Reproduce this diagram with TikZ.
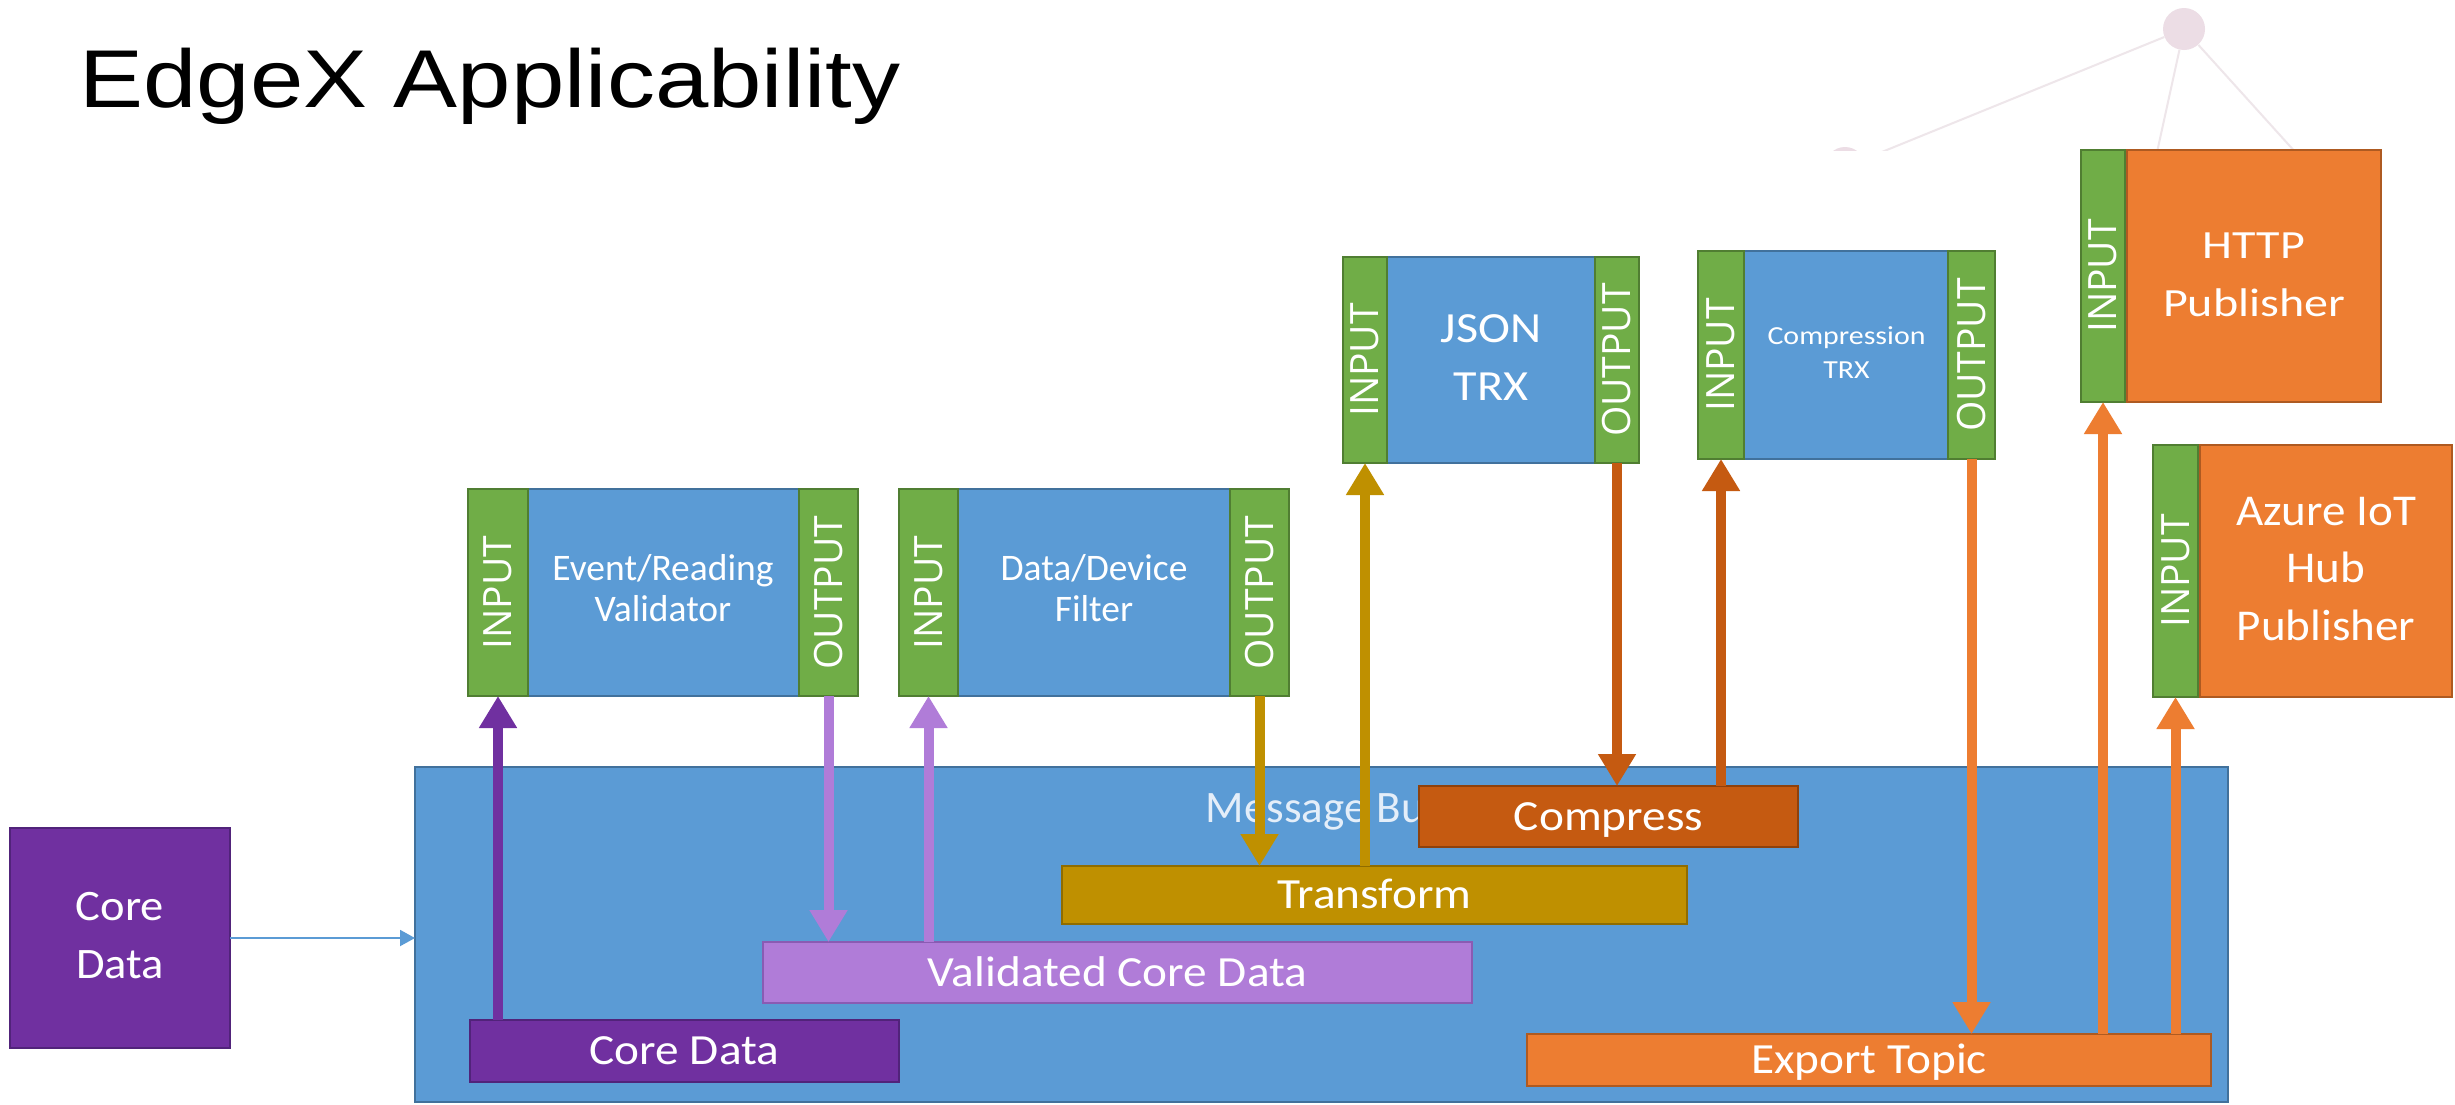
\documentclass[tikz,border=0pt]{standalone}
\usepackage{fontspec}
\setmainfont{Liberation Sans}
\newfontfamily\calfont{Carlito}
\newfontfamily\osfont{Open Sans}
\usepackage{graphicx}
\usetikzlibrary{arrows.meta}
\definecolor{cblue}{HTML}{5B9BD5}
\definecolor{cblueD}{HTML}{41719C}
\definecolor{cgreen}{HTML}{70AD47}
\definecolor{cgreenD}{HTML}{507E32}
\definecolor{cpurple}{HTML}{7030A0}
\definecolor{cpurpleD}{HTML}{51237A}
\definecolor{clpurple}{HTML}{B07CD8}
\definecolor{clpurpleD}{HTML}{8A5BB3}
\definecolor{cgold}{HTML}{BF9000}
\definecolor{cgoldD}{HTML}{8F6C00}
\definecolor{cdorange}{HTML}{C55A11}
\definecolor{cdorangeD}{HTML}{8E410C}
\definecolor{corange}{HTML}{ED7D31}
\definecolor{corangeD}{HTML}{AE5A21}
\definecolor{cbuslabel}{HTML}{E4EEF9}
\definecolor{cpink}{HTML}{ECDDE5}
\definecolor{cpinkline}{HTML}{EEE6EA}
\newcommand{\MLtext}[4]{\scalebox{#1}[1]{\fontsize{#2}{#3}\selectfont\begin{tabular}{@{}c@{}}#4\end{tabular}}}
\newcommand{\SLtext}[3]{\scalebox{#1}[1]{\fontsize{#2}{#2}\selectfont #3}}
\tikzset{
  boxbase/.style={rectangle, inner sep=0pt, outer sep=0pt, anchor=north west, line width=0.75pt, text=white, font=\calfont},
  bluebox/.style={boxbase, fill=cblue, draw=cblueD},
  greenbar/.style={boxbase, fill=cgreen, draw=cgreenD},
  purplebox/.style={boxbase, fill=cpurple, draw=cpurpleD},
  lpurplebox/.style={boxbase, fill=clpurple, draw=clpurpleD},
  goldbox/.style={boxbase, fill=cgold, draw=cgoldD},
  dorangebox/.style={boxbase, fill=cdorange, draw=cdorangeD},
  orangebox/.style={boxbase, fill=corange, draw=corangeD},
  bartext/.style={text height=13.85pt, text depth=0pt},
  iotext/.style={rotate=90, inner sep=0pt, text=white, font=\osfont\fontsize{19.5}{19.5}\selectfont},
  flow/.style={line width=5pt, draw=#1, -{Triangle[width=18pt,length=16pt]}},
  thinflow/.style={line width=1pt, draw=cblue, -{Triangle[width=8pt,length=7.5pt]}},
  decoline/.style={line width=1pt, draw=cpinkline},
}
\begin{document}
\begin{tikzpicture}[x=0.5pt,y=-0.5pt]
\useasboundingbox (0,0) rectangle (2455,1104);
\fill[white] (0,0) rectangle (2455,1104);

% faint decoration top right
\begin{scope}
\clip (1700,0) rectangle (2455,150);
\node[circle, fill=cpink, minimum size=21pt, inner sep=0pt] (pinkA) at (2184,29) {};
\node[circle, fill=cpink, minimum size=20pt, inner sep=0pt] (pinkB) at (1845,167) {};
\coordinate (decoA) at (2152,175);
\coordinate (decoB) at (2316,175);
\draw[decoline] (pinkA) -- (pinkB);
\draw[decoline] (pinkA) -- (decoA);
\draw[decoline] (pinkA) -- (decoB);
\end{scope}

% title
\node[anchor=base west, inner sep=0pt] (title) at (79,107) {\SLtext{1.17}{41}{EdgeX Applicability}};

% message bus
\node[bluebox, minimum width=906.5pt, minimum height=167.5pt] (bus) at (415,767) {};
\node[anchor=base, inner sep=0pt, text=cbuslabel, font=\calfont] (buslabel) at (1324,822) {\SLtext{1}{22.5}{Message Bus}};

% topic bars
\node[purplebox, bartext, minimum width=214.5pt, minimum height=31pt] (barCore) at (470,1020) {\SLtext{1.1}{21.5}{Core Data}};
\node[lpurplebox, bartext, minimum width=354.5pt, minimum height=30.5pt] (barValid) at (763,942) {\SLtext{1.1}{21.5}{Validated Core Data}};
\node[goldbox, bartext, minimum width=312.5pt, minimum height=29pt] (barTrans) at (1062,866) {\SLtext{1.1}{21.5}{Transform}};
\node[dorangebox, bartext, minimum width=189.5pt, minimum height=30.5pt] (barComp) at (1419,786) {\SLtext{1.1}{21.5}{Compress}};
\node[orangebox, bartext, minimum width=342pt, minimum height=26pt] (barExport) at (1527,1034) {\SLtext{1.1}{21.5}{Export Topic}};

% function boxes
\node[bluebox, minimum width=195pt, minimum height=103.5pt] (b1) at (468,489) {\MLtext{1}{18.75}{20.5}{Event/Reading\\Validator}};
\node[greenbar, minimum width=30pt, minimum height=103.5pt] (b1in) at (b1.north west) {};
\node[greenbar, anchor=north east, minimum width=29.5pt, minimum height=103.5pt] (b1out) at (b1.north east) {};
\node[iotext] (b1inT) at (b1in.center) {INPUT};
\node[iotext] (b1outT) at (b1out.center) {OUTPUT};

\node[bluebox, minimum width=195pt, minimum height=103.5pt] (b2) at (899,489) {\MLtext{1}{18.75}{20.5}{Data/Device\\Filter}};
\node[greenbar, minimum width=29.5pt, minimum height=103.5pt] (b2in) at (b2.north west) {};
\node[greenbar, anchor=north east, minimum width=29.5pt, minimum height=103.5pt] (b2out) at (b2.north east) {};
\node[iotext] (b2inT) at (b2in.center) {INPUT};
\node[iotext] (b2outT) at (b2out.center) {OUTPUT};

\node[bluebox, minimum width=148pt, minimum height=103pt] (json) at (1343,257) {\MLtext{1.12}{21.5}{29}{JSON\\TRX}};
\node[greenbar, minimum width=22pt, minimum height=103pt] (jsonIn) at (json.north west) {};
\node[greenbar, anchor=north east, minimum width=22pt, minimum height=103pt] (jsonOut) at (json.north east) {};
\node[iotext] (jsonInT) at (jsonIn.center) {INPUT};
\node[iotext] (jsonOutT) at (jsonOut.center) {OUTPUT};

\node[bluebox, minimum width=148.5pt, minimum height=104pt] (comp) at (1698,251) {\MLtext{1.15}{13}{17}{Compression\\TRX}};
\node[greenbar, minimum width=23pt, minimum height=104pt] (compIn) at (comp.north west) {};
\node[greenbar, anchor=north east, minimum width=23.5pt, minimum height=104pt] (compOut) at (comp.north east) {};
\node[iotext] (compInT) at (compIn.center) {INPUT};
\node[iotext] (compOutT) at (compOut.center) {OUTPUT};

% publishers
\node[greenbar, minimum width=22pt, minimum height=126pt] (httpIn) at (2081,150) {};
\node[iotext] (httpInT) at (httpIn.center) {INPUT};
\node[orangebox, minimum width=127pt, minimum height=126pt] (http) at (2127,150) {\MLtext{1.2}{20}{29}{HTTP\\Publisher}};

\node[greenbar, minimum width=22.5pt, minimum height=126pt] (azIn) at (2153,445) {};
\node[iotext] (azInT) at (azIn.center) {INPUT};
\node[orangebox, minimum width=126pt, minimum height=126pt] (az) at (2200,445) {\MLtext{1.07}{22}{28.75}{Azure IoT\\Hub\\Publisher}};

% core data source
\node[purplebox, minimum width=110pt, minimum height=110pt] (coreSrc) at (10,828) {\MLtext{1.07}{21.75}{29}{Core\\Data}};

% connectors
\draw[thinflow] (coreSrc.east) -- (bus.west |- coreSrc.east);
\draw[flow=cpurple] (b1in.south |- barCore.north) -- (b1in.south);
\draw[flow=clpurple] (b1out.south) -- (b1out.south |- barValid.north);
\draw[flow=clpurple] (b2in.south |- barValid.north) -- (b2in.south);
\draw[flow=cgold] (b2out.south) -- (b2out.south |- barTrans.north);
\draw[flow=cgold] (jsonIn.south |- barTrans.north) -- (jsonIn.south);
\draw[flow=cdorange] (jsonOut.south) -- (jsonOut.south |- barComp.north);
\draw[flow=cdorange] (compIn.south |- barComp.north) -- (compIn.south);
\draw[flow=corange] (compOut.south) -- (compOut.south |- barExport.north);
\draw[flow=corange] (httpIn.south |- barExport.north) -- (httpIn.south);
\draw[flow=corange] (azIn.south |- barExport.north) -- (azIn.south);
\end{tikzpicture}
\end{document}
